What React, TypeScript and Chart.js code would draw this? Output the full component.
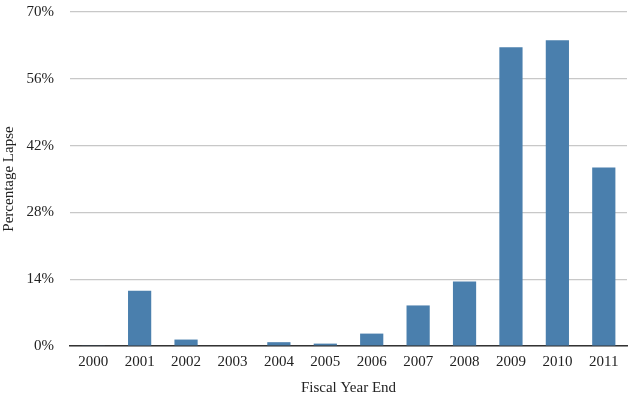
import React, { useEffect, useRef } from "react";
import { Chart, registerables } from "chart.js";

Chart.register(...registerables);

const years = ["2000", "2001", "2002", "2003", "2004", "2005", "2006", "2007", "2008", "2009", "2010", "2011"];
const lapsePct = [0.1, 11.6, 1.35, 0, 0.8, 0.5, 2.6, 8.5, 13.5, 62.6, 64.1, 37.4];
const yTicks = [0, 14, 28, 42, 56, 70];

export default function App() {
  const ref = useRef<HTMLCanvasElement | null>(null);
  useEffect(() => {
    document.body.style.margin = "0";
    const ctx = ref.current!;
    const font = "'Liberation Serif', 'DejaVu Serif', serif";
    const chart = new Chart(ctx, {
      type: "bar",
      data: {
        labels: years,
        datasets: [
          {
            data: lapsePct,
            backgroundColor: "#4a7fad",
            borderWidth: 0,
            barPercentage: 0.5,
            categoryPercentage: 1,
          },
        ],
      },
      options: {
        animation: false,
        responsive: false,
        maintainAspectRatio: false,
        layout: { padding: { top: 12, right: 3, left: 0, bottom: 0 } },
        plugins: { legend: { display: false }, tooltip: { enabled: false } },
        scales: {
          x: {
            grid: { display: false, drawTicks: false },
            border: { display: true, color: "#333333", width: 1.5 },
            ticks: { color: "#222", font: { family: font, size: 15 }, padding: 7, maxRotation: 0, autoSkip: false },
            title: { display: true, text: "Fiscal Year End", color: "#222", font: { family: font, size: 15 }, padding: { top: 8, bottom: 0 } },
            afterFit: (s: any) => { s.height = 51; s.paddingLeft = 0; s.paddingRight = 0; },
          },
          y: {
            min: 0,
            max: 70,
            afterBuildTicks: (s: any) => { s.ticks = yTicks.map((v) => ({ value: v })); },
            grid: { color: "#c8c8c8", lineWidth: 1.2, drawTicks: false },
            border: { display: false },
            ticks: { color: "#222", font: { family: font, size: 15 }, padding: 16, callback: (v: any) => v + "%" },
            title: { display: true, text: "Percentage Lapse", color: "#222", font: { family: font, size: 15 }, padding: { top: 0, bottom: 4 } },
            afterFit: (s: any) => { s.width = 70; s.paddingTop = 0; s.paddingBottom = 0; },
          },
        },
      },
    });
    return () => chart.destroy();
  }, []);
  return (
    <div style={{ position: "fixed", left: 0, top: 0, width: 630, height: 397, background: "#fff" }}>
      <canvas ref={ref} width={630} height={397} style={{ width: 630, height: 397 }} />
    </div>
  );
}
